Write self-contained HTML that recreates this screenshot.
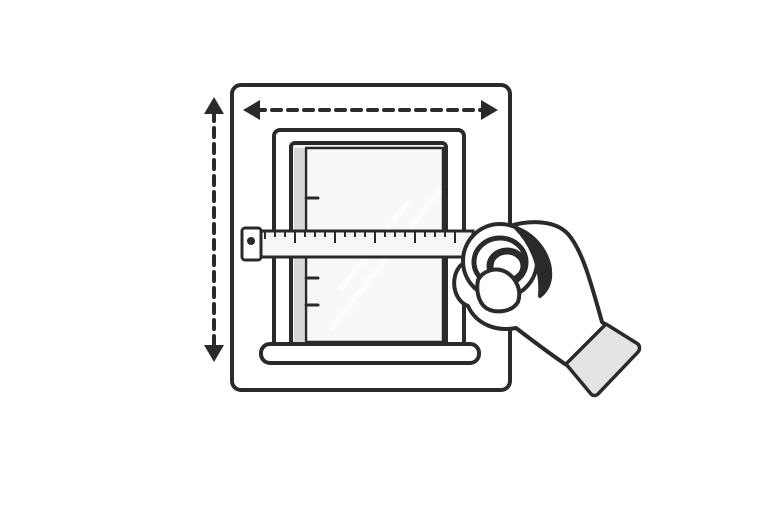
<!DOCTYPE html>
<html><head><style>html,body{margin:0;background:#fff}svg{display:block}</style></head><body>
<svg width="768" height="512" viewBox="0 0 768 512" xmlns="http://www.w3.org/2000/svg">
<g fill="none" stroke="#2a2a2a" stroke-width="4" stroke-linejoin="round" stroke-linecap="round">
<rect x="232" y="85" width="278" height="305" rx="9" fill="#fff"/>
<rect x="274" y="130" width="190" height="222" rx="6"/>
<rect x="291" y="143" width="155" height="202" rx="4" fill="#f4f4f4"/>
<rect x="306" y="148" width="137" height="194" fill="#f8f8f8" stroke-width="2.5"/>
<rect x="294" y="148" width="10" height="194" fill="#d8d8d8" stroke="none"/>
<path d="M306 198h12M306 278h12M306 305h12" stroke-width="3"/>
<rect x="261" y="344" width="218" height="19" rx="9" fill="#fff"/>
<path d="M214 112V350" stroke-dasharray="9 7"/>
<path d="M256 110H486" stroke-dasharray="9 7"/>
</g>
<path d="M340 290l70 -90M330 330l110 -140" stroke="#fff" stroke-width="6" opacity=".8"/>
<g fill="#2a2a2a">
<path d="M214 97l-10 17h20z"/><path d="M214 362l-10 -17h20z"/>
<path d="M243 110l17 -10v20z"/><path d="M498 110l-17 -10v20z"/>
</g>
<g stroke="#2a2a2a" stroke-width="3" fill="#fff">
<rect x="258" y="231" width="215" height="26" fill="#f6f6f6"/>
<rect x="242" y="228" width="19" height="32" rx="3"/>
<path d="M265 231v8M275 231v6M285 231v6M295 231v12M305 231v6M315 231v6M325 231v6M335 231v12M345 231v6M355 231v6M365 231v6M375 231v12M385 231v6M395 231v6M405 231v6M415 231v12M425 231v6M435 231v6M445 231v6M455 231v12" stroke-width="2"/>
<circle cx="251" cy="241" r="2.5" fill="#2a2a2a"/>
</g>
<g stroke="#2a2a2a" stroke-width="4" stroke-linejoin="round" fill="#fff">
<path d="M510 226c20 -6 45 -6 58 8c14 16 22 45 34 88l8 6l-42 38c-18 -12 -35 -25 -52 -38c-20 4 -40 -4 -48 -22c-15 -6 -18 -28 -8 -40z"/>
<path d="M566 364l40 -40l32 20c2 2 2 6 0 8l-40 42c-2 2 -5 2 -7 0z" fill="#e4e4e4" stroke-width="3.5"/>
<circle cx="500" cy="261" r="37" fill="#fff"/>
<path d="M516 228c22 8 36 30 34 50c-1 8 -5 14 -10 18c2 -24 -6 -50 -24 -68z" fill="#2a2a2a"/>
<ellipse cx="500" cy="262" rx="26" ry="24" stroke-width="5"/>
<ellipse cx="507" cy="266" rx="17" ry="15" stroke-width="7"/>
<path d="M478 280c4 -8 16 -14 28 -8c10 6 16 18 12 30c-6 10 -22 12 -32 6c-8 -6 -10 -18 -8 -28z" stroke-width="4"/>
</g>
</svg>
</body></html>
